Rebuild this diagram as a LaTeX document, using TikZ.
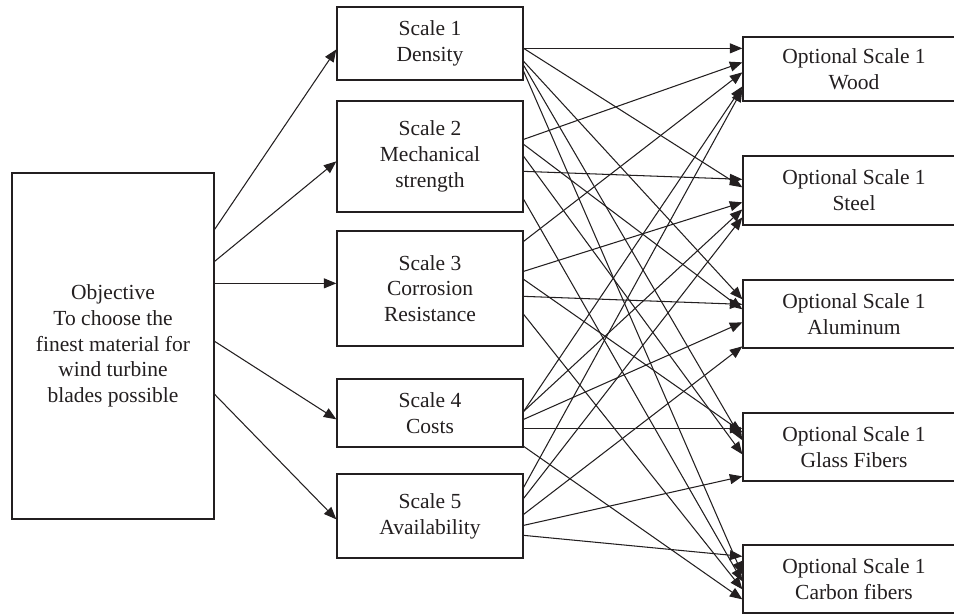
\documentclass[tikz,border=0pt]{standalone}
\usepackage{fontspec}
\setmainfont{Liberation Serif}
\usetikzlibrary{arrows.meta,calc}
\definecolor{ink}{HTML}{231F20}
\tikzset{
  box/.style={draw=ink, line width=1.3pt, rectangle, inner sep=0pt, align=center,
    text=ink, font=\fontsize{21.5}{25.8}\selectfont},
  conn/.style={draw=ink, line width=1.05pt, -{Triangle[length=12.5pt,width=10pt]}},
}
\begin{document}
\begin{tikzpicture}[x=1pt,y=-1pt]
\useasboundingbox (0,0) rectangle (954,614);
\clip (0,0) rectangle (954,614);
\fill[white] (0,0) rectangle (954,614);
% left
\node[box, minimum width=202pt, minimum height=346pt] (obj) at (113,346)
  {Objective\\To choose the\\finest material for\\wind turbine\\blades possible};
% middle
\node[box, minimum width=186pt, minimum height=73pt] (s1) at (430,43.5) {Scale 1\\Density};
\node[box, minimum width=186pt, minimum height=111pt] (s2) at (430,156.5) {Scale 2\\Mechanical\\strength};
\node[box, minimum width=186pt, minimum height=115pt] (s3) at (430,288.5) {Scale 3\\Corrosion\\Resistance};
\node[box, minimum width=186pt, minimum height=68pt] (s4) at (430,413) {Scale 4\\Costs};
\node[box, minimum width=186pt, minimum height=84pt] (s5) at (430,516) {Scale 5\\Availability};
% right
\node[box, minimum width=222pt, minimum height=64pt] (wood) at (854,69) {Optional Scale 1\\Wood};
\node[box, minimum width=222pt, minimum height=69pt] (steel) at (854,190.5) {Optional Scale 1\\Steel};
\node[box, minimum width=222pt, minimum height=68pt] (alum) at (854,314) {Optional Scale 1\\Aluminum};
\node[box, minimum width=222pt, minimum height=68pt] (glass) at (854,447) {Optional Scale 1\\Glass Fibers};
\node[box, minimum width=222pt, minimum height=68pt] (carbon) at (854,579) {Optional Scale 1\\Carbon fibers};
% objective -> scales
\draw[conn] ($(obj.north east)+(0,57)$) -- ($(s1.north west)+(0,43)$);
\draw[conn] ($(obj.north east)+(0,89)$) -- ($(s2.north west)+(0,61)$);
\draw[conn] ($(obj.north east)+(0,111)$) -- ($(s3.north west)+(0,53)$);
\draw[conn] ($(obj.north east)+(0,169)$) -- ($(s4.north west)+(0,41)$);
\draw[conn] ($(obj.north east)+(0,222)$) -- ($(s5.north west)+(0,46)$);
% scale 1
\draw[conn] ($(s1.north east)+(0,42)$) -- ($(wood.north west)+(0,12)$);
\draw[conn] ($(s1.north east)+(0,42)$) -- ($(steel.north west)+(0,32)$);
\draw[conn] ($(s1.north east)+(0,55)$) -- ($(alum.north west)+(0,20)$);
\draw[conn] ($(s1.north east)+(0,59)$) -- ($(glass.north west)+(0,28)$);
\draw[conn] ($(s1.north east)+(0,65)$) -- ($(carbon.north west)+(0,30)$);
% scale 2
\draw[conn] ($(s2.north east)+(0,39)$) -- ($(wood.north west)+(0,26)$);
\draw[conn] ($(s2.north east)+(0,71)$) -- ($(steel.north west)+(0,24)$);
\draw[conn] ($(s2.north east)+(0,44)$) -- ($(alum.north west)+(0,30)$);
\draw[conn] ($(s2.north east)+(0,56)$) -- ($(glass.north west)+(0,42)$);
\draw[conn] ($(s2.north east)+(0,99)$) -- ($(carbon.north west)+(0,37)$);
% scale 3
\draw[conn] ($(s3.north east)+(0,11)$) -- ($(wood.north west)+(0,36)$);
\draw[conn] ($(s3.north east)+(0,41)$) -- ($(steel.north west)+(0,47)$);
\draw[conn] ($(s3.north east)+(0,66)$) -- ($(alum.north west)+(0,25)$);
\draw[conn] ($(s3.north east)+(0,49)$) -- ($(glass.north west)+(0,20)$);
\draw[conn] ($(s3.north east)+(0,84)$) -- ($(carbon.north west)+(0,45)$);
% scale 4
\draw[conn] ($(s4.north east)+(0,33)$) -- ($(wood.north west)+(0,50)$);
\draw[conn] ($(s4.north east)+(0,33)$) -- ($(steel.north west)+(0,54)$);
\draw[conn] ($(s4.north east)+(0,41)$) -- ($(alum.north west)+(0,43)$);
\draw[conn] ($(s4.north east)+(0,50)$) -- ($(glass.north west)+(0,16)$);
\draw[conn] ($(s4.north east)+(0,68)$) -- ($(carbon.north west)+(0,55)$);
% scale 5
\draw[conn] ($(s5.north east)+(0,14)$) -- ($(wood.north west)+(0,53)$);
\draw[conn] ($(s5.north east)+(0,25)$) -- ($(steel.north west)+(0,62)$);
\draw[conn] ($(s5.north east)+(0,41)$) -- ($(alum.north west)+(0,67)$);
\draw[conn] ($(s5.north east)+(0,52)$) -- ($(glass.north west)+(0,64)$);
\draw[conn] ($(s5.north east)+(0,62)$) -- ($(carbon.north west)+(0,12)$);
\end{tikzpicture}
\end{document}
